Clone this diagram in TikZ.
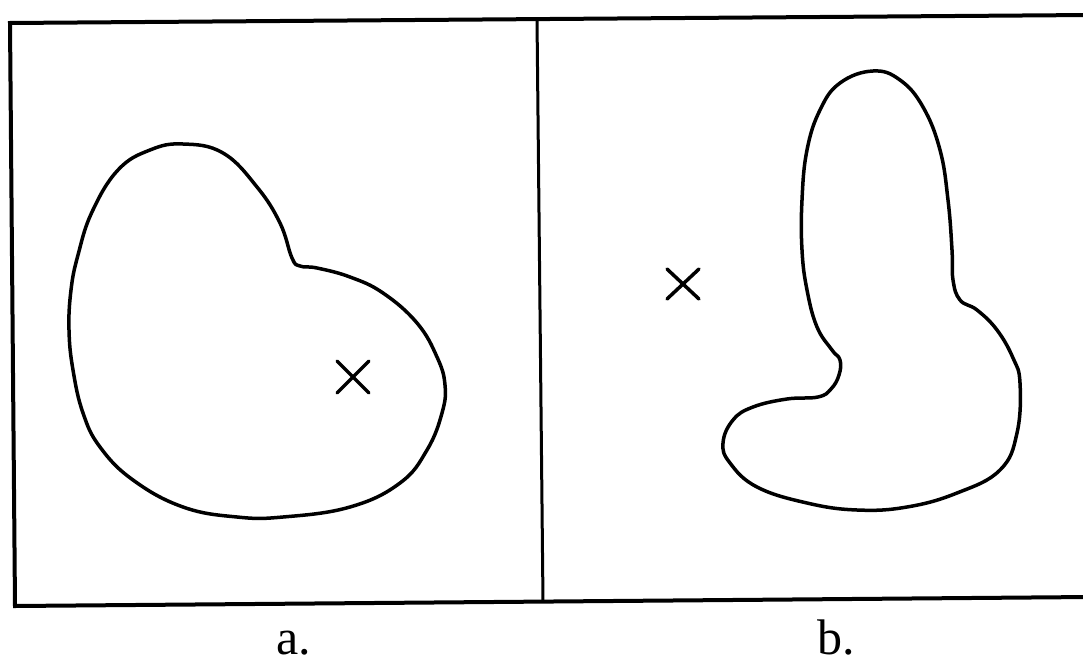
\documentclass[tikz,border=0pt]{standalone}
\usepackage{fontspec}
\setmainfont{Liberation Serif}
\begin{document}
\begin{tikzpicture}[x=1pt,y=-1pt,
  frameline/.style={line width=4pt,line cap=rect},
  blob/.style={line width=3.5pt,line join=round},
  xmark/.style={line width=3.5pt,line cap=round},
  lab/.style={font=\fontsize{50}{60}\selectfont,inner sep=0pt}]
\useasboundingbox (0,0) rectangle (1083,669);
% frame
\coordinate (tl) at (10,23);
\coordinate (tr) at (1090,15);
\coordinate (bl) at (15,606);
\coordinate (br) at (1090,597);
\coordinate (dt) at (537,19);
\coordinate (db) at (543,602);
\draw[frameline] (tr) -- (tl) -- (bl) -- (br);
\draw[line width=3pt] (dt) -- (db);
% shape a
\draw[blob] plot[smooth cycle,tension=0.7] coordinates {
 (183,144) (223,153) (257,187) (280,223) (292,258) (300,266)
 (317,268) (350,277) (383,293) (417,323) (437,357) (445,385)
 (442,413) (427,450) (400,483) (350,507) (283,517) (237,517)
 (183,507) (133,480) (100,447) (83,413) (73,370) (69,330)
 (71,290) (78,255) (92,212) (118,170) (150,150)};
% shape b
\draw[blob] plot[smooth cycle,tension=0.7] coordinates {
 (873,71) (840,83) (820,110) (807,150) (802,200) (802,250)
 (807,290) (817,327) (832,350) (840,360) (839,375) (831,389)
 (818,397) (787,399) (753,407) (733,420) (723,443) (730,463)
 (757,487) (807,503) (857,510) (907,507) (957,493) (1000,470)
 (1017,433) (1020,383) (1013,358) (997,330) (977,310) (960,300)
 (953,280) (952,250) (948,200) (940,150) (923,107) (900,80)};
% x marks
\node[inner sep=0pt,minimum size=0pt] (xa) at (353,377) {};
\node[inner sep=0pt,minimum size=0pt] (xb) at (683,284) {};
\draw[xmark] ([shift={(-16,-16)}]xa.center) -- ([shift={(16,16)}]xa.center);
\draw[xmark] ([shift={(-16,16)}]xa.center) -- ([shift={(16,-16)}]xa.center);
\draw[xmark] ([shift={(-16,-15)}]xb.center) -- ([shift={(16,15)}]xb.center);
\draw[xmark] ([shift={(-16,15)}]xb.center) -- ([shift={(16,-15)}]xb.center);
% labels
\node[lab,anchor=base] (la) at (294,654) {a.};
\node[lab,anchor=base] (lb) at (836,654) {b.};
\end{tikzpicture}
\end{document}
